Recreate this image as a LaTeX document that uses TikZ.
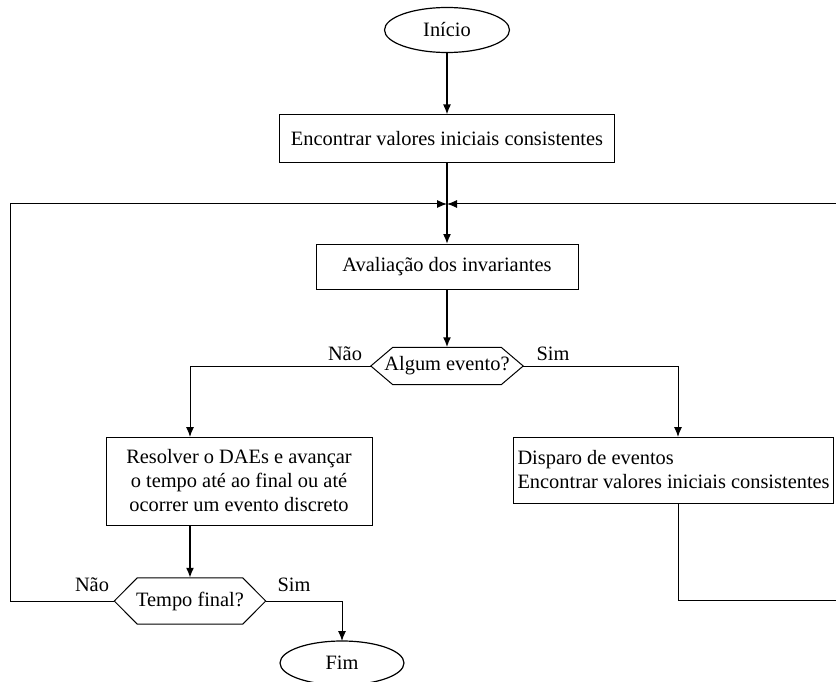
\documentclass[tikz,border=0pt]{standalone}
\usepackage{fontspec}
\setmainfont{Liberation Serif}
\usetikzlibrary{arrows.meta,shapes.geometric}

% hexagonal decision box drawn around a node
\newcommand{\drawhex}[2]{%
  \draw[hexline] (#1.west) -- ([xshift=#2]#1.north west) -- ([xshift=-#2]#1.north east)
    -- (#1.east) -- ([xshift=-#2]#1.south east) -- ([xshift=#2]#1.south west) -- cycle;}

\begin{document}
\begin{tikzpicture}[x=1pt,y=-1pt,
  every node/.style={font=\fontsize{20.4}{24}\selectfont, inner sep=0pt},
  procbox/.style={draw, line width=1pt, align=center},
  terminal/.style={draw, ellipse, line width=1.2pt},
  hexnode/.style={align=center},
  hexline/.style={line width=1pt},
  flow/.style={line width=1.6pt, -{Latex[length=10pt,width=8pt]}},
  linkarrow/.style={line width=1pt, -{Latex[length=10pt,width=8pt]}},
  lbl/.style={}
]
\useasboundingbox (0,0) rectangle (836,682);

% nodes
\node[terminal, minimum width=125pt, minimum height=45pt] (start) at (447,30) {Início};
\node[procbox, minimum width=335pt, minimum height=48pt] (init) at (447,139) {Encontrar valores iniciais consistentes};
\coordinate (merge) at (447,204);
\node[procbox, minimum width=262pt, minimum height=45pt] (inv) at (447,267) {Avaliação dos invariantes};
\node[hexnode, minimum width=152pt, minimum height=37pt] (evt) at (447,366) {Algum evento?};
\node[procbox, minimum width=266pt, minimum height=88pt] (solve) at (239,481)
  {Resolver o DAEs e avançar\\o tempo até ao final ou até\\ocorrer um evento discreto};
\node[procbox, align=left, inner xsep=4pt, minimum height=66pt, anchor=west] (fire) at (513,470)
  {Disparo de eventos\\Encontrar valores iniciais consistentes};
\node[hexnode, minimum width=151pt, minimum height=46pt] (tend) at (190,601) {Tempo final?};
\node[terminal, minimum width=124pt, minimum height=44pt] (stop) at (342,663) {Fim};

\drawhex{evt}{22pt}
\drawhex{tend}{23pt}

% helper points for the loops and branches
\coordinate (leftx) at (10,204);
\coordinate (rightx) at (837,204);
\coordinate (rightlow) at (837,600);
\coordinate (solvetop) at (190,437);
\coordinate (solvebot) at (190,525);
\coordinate (firetop) at (678,437);
\coordinate (firebot) at (678,503);
\coordinate (stopx) at (342,641);

% main flow
\draw[flow] (start) -- (init);
\draw[line width=1.6pt] (init) -- (merge);
\draw[flow] (merge) -- (inv);
\draw[flow] (inv) -- (evt);

% branches
\draw[linkarrow] (evt.west) -| (solvetop);
\draw[linkarrow] (evt.east) -| (firetop);
\draw[flow] (solvebot) -- (tend);
\draw[linkarrow] (tend.east) -| (stopx);

% loops back to the evaluation step
\draw[linkarrow] (tend.west) -| (leftx) -- (merge);
\draw[linkarrow] (firebot) |- (rightlow) -- (rightx) -- (merge);

% branch labels
\node[lbl] (n1) at (345,354) {Não};
\node[lbl] (s1) at (553,354) {Sim};
\node[lbl] (n2) at (92,585) {Não};
\node[lbl] (s2) at (294,585) {Sim};
\end{tikzpicture}
\end{document}
